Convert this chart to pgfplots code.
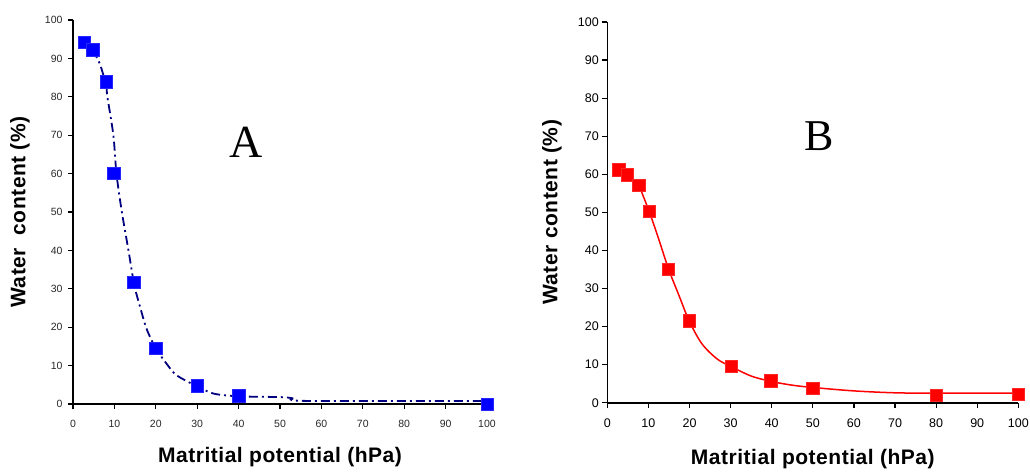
\documentclass[border=0pt]{standalone}
\usepackage{fontspec}
\setmainfont{Liberation Sans}
\newfontfamily\timesfont{Liberation Serif}
\newfontfamily\labelfont[LetterSpace=2.5]{Liberation Sans}
\usepackage{pgfplots}
\pgfplotsset{compat=1.18}

\definecolor{navyline}{RGB}{0,0,128}
\definecolor{markblue}{RGB}{0,0,255}
\definecolor{markred}{RGB}{255,0,0}
\definecolor{tickgray}{RGB}{40,40,40}

\pgfplotsset{
  retention/.style={
    scale only axis,
    xmin=0, xmax=100, ymin=0, ymax=100,
    xtick={0,10,...,100}, ytick={0,10,...,100},
    axis x line*=bottom, axis y line*=left,
    axis line style={black, line width=1.6pt},
    tick style={black, line width=1.2pt},
    tick align=outside, major tick length=5pt,
    /pgf/number format/assume math mode=true,
    xticklabel style={yshift=-8pt},
    clip=false,
    label style={font=\labelfont\fontsize{21}{21}\selectfont\bfseries},
    xlabel={Matritial potential (hPa)},
  },
}

\begin{document}
\begin{tikzpicture}
\useasboundingbox (0,0) rectangle (1030pt,471pt);

% panel A
\begin{axis}[retention,
  at={(73pt,67pt)}, anchor=south west,
  width=414pt, height=384pt,
  ticklabel style={font=\fontsize{10.5}{10.5}\selectfont, text=tickgray},
  yticklabel style={xshift=-2pt},
  ylabel={Water\ \ content (\%)},
  xlabel style={at={(axis description cs:0.5,-0.137)}, anchor=center},
  ylabel style={at={(axis description cs:-0.128,0.5)}, anchor=center},
]
\addplot[navyline, line width=1.8pt, smooth, tension=0.5,
  dash pattern=on 9pt off 4pt on 2pt off 4pt] coordinates {
  (4.75,92.2) (6.5,88.5) (8,83) (8.3,80) (9.75,70) (10.5,60) (11.8,50)
  (13.4,40) (14.8,31) (16.2,25.3) (17.8,19.5) (20,14.5) (22.6,10.5)
  (25,7.5) (30,4.6) (34,2.7) (40,2) (50,1.8) (53,1.5) (56.5,0.8) (100,0.8)
};
\addplot[only marks, mark=square*, mark size=6.2pt,
  mark options={fill=markblue, draw=markblue!85!white, line width=0.6pt}] coordinates {
  (2.7,94.2) (4.75,92.2) (8,83.9) (9.9,60) (14.7,31.7) (20,14.5)
  (30,4.7) (40,2.1) (100,0)
};
\node[font=\timesfont\fontsize{46}{46}\selectfont] at (axis cs:41.7,68.2) {A};
\end{axis}

% panel B
\begin{axis}[retention,
  at={(607.3pt,68.3pt)}, anchor=south west,
  width=411pt, height=380.7pt,
  ticklabel style={font=\fontsize{12.5}{12.5}\selectfont, text=black},
  ylabel={Water content (\%)},
  xlabel style={at={(axis description cs:0.5,-0.148)}, anchor=center},
  ylabel style={at={(axis description cs:-0.135,0.5)}, anchor=center},
]
\addplot[markred, line width=1.5pt, smooth, tension=0.5] coordinates {
  (7.7,57.1) (10.2,50.2) (12.5,43) (14.9,35.1) (17.5,28) (19.9,21.5)
  (23,15.5) (26.7,11.5) (30.1,9.5) (35,7) (39.8,5.6) (45,4.6) (50,4)
  (60,3.1) (70,2.6) (80,2.5) (100,2.5)
};
\addplot[only marks, mark=square*, mark size=6.2pt,
  mark options={fill=markred, draw=markred!85!white, line width=0.6pt}] coordinates {
  (2.8,61.2) (4.9,59.9) (7.7,57.1) (10.2,50.2) (14.9,35.1) (19.9,21.5)
  (30.1,9.5) (39.8,5.8) (50,3.8) (80,2.0) (100,2.2)
};
\node[font=\timesfont\fontsize{44}{44}\selectfont] at (axis cs:51.6,69.9) {B};
\end{axis}
\end{tikzpicture}
\end{document}
